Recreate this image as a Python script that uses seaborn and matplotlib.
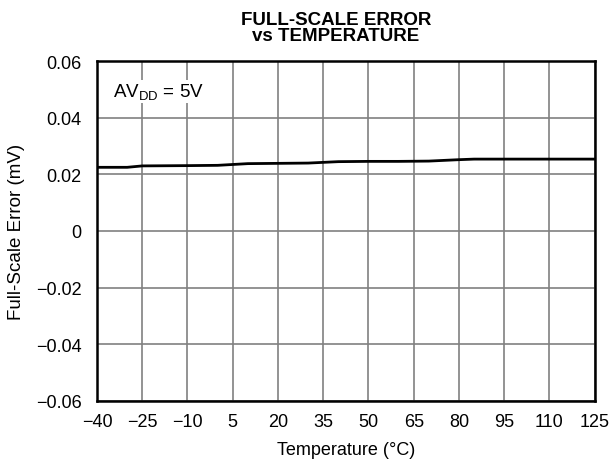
import numpy as np
import pandas as pd
import matplotlib
matplotlib.use("Agg")
import matplotlib.pyplot as plt
import seaborn as sns

# data
temps = [-40, -30, -25, -10, 0, 5, 10, 20, 30, 40, 50, 60, 70, 80, 85, 95, 110, 125]
fs_error = [0.0225, 0.0225, 0.0230, 0.0231, 0.0232, 0.0235, 0.0238, 0.0239, 0.0240,
            0.0245, 0.0246, 0.0246, 0.0247, 0.0252, 0.0254, 0.0254, 0.0254, 0.0254]
x_ticks = [-40, -25, -10, 5, 20, 35, 50, 65, 80, 95, 110, 125]
y_ticks = [-0.06, -0.04, -0.02, 0, 0.02, 0.04, 0.06]
y_labels = ["\u22120.06", "\u22120.04", "\u22120.02", "0", "0.02", "0.04", "0.06"]

df = pd.DataFrame({"Temperature": temps, "Error": fs_error})

sns.set_style("white")
plt.rcParams["font.family"] = ["Liberation Sans", "DejaVu Sans"]
plt.rcParams["text.color"] = "black"
plt.rcParams["axes.labelcolor"] = "black"
plt.rcParams["xtick.color"] = "black"
plt.rcParams["ytick.color"] = "black"

fig = plt.figure(figsize=(6.1, 4.64), dpi=100)
ax = fig.add_axes([0.159, 0.134, 0.816, 0.732])

sns.lineplot(data=df, x="Temperature", y="Error", color="black", linewidth=2, ax=ax)

ax.set_xlim(-40, 125)
ax.set_ylim(-0.06, 0.06)
ax.set_xticks(x_ticks)
ax.set_xticklabels([str(t).replace("-", "\u2212") for t in x_ticks])
ax.set_yticks(y_ticks)
ax.set_yticklabels(y_labels)
ax.tick_params(labelsize=13, length=0)
ax.tick_params(axis="x", pad=9)
ax.tick_params(axis="y", pad=11)
ax.grid(True, color="#808080", linewidth=1.2)
for s in ax.spines.values():
    s.set_color("black")
    s.set_linewidth(1.8)

ax.set_xlabel("Temperature (\u00b0C)", fontsize=13, labelpad=8)
ax.set_ylabel("Full-Scale Error (mV)", fontsize=13.5, labelpad=8)
ax.set_title("FULL-SCALE ERROR\nvs TEMPERATURE", fontsize=13.5, fontweight="bold",
             linespacing=0.95, pad=15, x=0.48)

ax.text(-34.7, 0.0476, "AV$_{\\mathregular{DD}}$ = 5V", fontsize=13.5,
        bbox=dict(facecolor="white", edgecolor="none", pad=1))

fig.savefig("out.png", dpi=100)
